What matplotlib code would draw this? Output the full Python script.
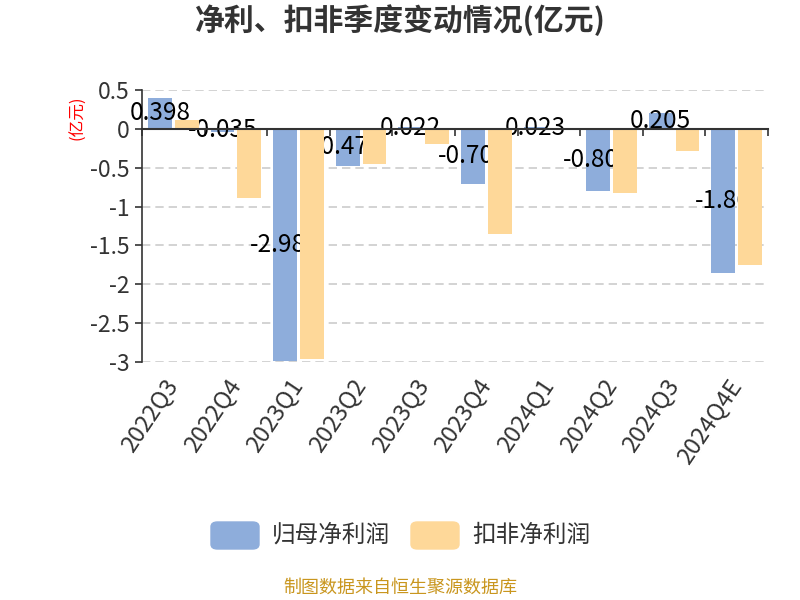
import numpy as np
import matplotlib
matplotlib.use("Agg")
import matplotlib.pyplot as plt
from matplotlib.patches import FancyBboxPatch

plt.rcParams['font.family'] = ['Noto Sans CJK SC', 'DejaVu Sans']

# 数据
quarters = ['2022Q3', '2022Q4', '2023Q1', '2023Q2', '2023Q3',
            '2023Q4', '2024Q1', '2024Q2', '2024Q3', '2024Q4E']
net_profit = [0.398, -0.035, -2.984, -0.473, 0.022, -0.706, 0.023, -0.806, 0.205, -1.86]
deducted = [0.12, -0.885, -2.96, -0.449, -0.2, -1.35, 0.005, -0.82, -0.282, -1.752]
series_names = ['归母净利润', '扣非净利润']
colors = ['#8eaddb', '#fed899']

fig = plt.figure(figsize=(8, 6), dpi=100)
ax = fig.add_axes([142 / 800, 1 - 362 / 600, 626 / 800, 272 / 600])

x = np.arange(len(quarters))
w = 0.38
off = 0.215
ax.bar(x - off, net_profit, width=w, color=colors[0], zorder=2)
ax.bar(x + off, deducted, width=w, color=colors[1], zorder=4)

# 数据标签（居中于柱子，被后面的橙色柱子遮挡）
for xi, v in zip(x, net_profit):
    ax.text(xi - off, v / 2, f'{v:g}', ha='center', va='center',
            fontsize=17.5, color='black', zorder=3)

ax.set_xlim(-0.5, len(quarters) - 0.5)
ax.set_ylim(-3, 0.5)
yt = np.arange(-3, 0.51, 0.5)
ax.set_yticks(yt, labels=[f'{t:g}' for t in yt])
ax.grid(axis='y', color='#cccccc', linestyle=(0, (5, 3)), linewidth=1.2, zorder=0)
ax.tick_params(axis='y', length=5, width=1.2, color='#333333',
               labelsize=16.5, labelcolor='#333333', pad=4)

for s in ['top', 'right']:
    ax.spines[s].set_visible(False)
ax.spines['left'].set_color('#333333')
ax.spines['left'].set_linewidth(1.2)
ax.spines['bottom'].set_position(('data', 0))
ax.spines['bottom'].set_color('#333333')
ax.spines['bottom'].set_linewidth(1.5)
ax.spines['bottom'].set_zorder(5)
ax.set_xticks(np.arange(-0.5, len(quarters), 1))
ax.tick_params(axis='x', labelbottom=False, length=5, width=1.2, color='#333333')

sec = ax.secondary_xaxis('bottom')
sec.set_xticks(x, labels=quarters)
sec.tick_params(length=0, pad=14, labelsize=17, labelcolor='#333333')
for lab in sec.get_xticklabels():
    lab.set_rotation(56)
    lab.set_ha('right')
    lab.set_va('center')
    lab.set_rotation_mode('anchor')
sec.spines['bottom'].set_visible(False)

ax.text(-0.102, 0.897, '(亿元)', transform=ax.transAxes, rotation=90,
        ha='center', va='center', fontsize=12, color='red')

fig.text(0.5, 1 - 20 / 600, '净利、扣非季度变动情况(亿元)', ha='center', va='center',
         fontsize=21.5, fontweight='bold', color='#333333')

# 图例
legend_x = [211, 411]
for lx, name, c in zip(legend_x, series_names, colors):
    fig.patches.append(FancyBboxPatch((lx / 800, 1 - 549 / 600), 48 / 800, 27 / 600,
                                      boxstyle='round,pad=0,rounding_size=0.008',
                                      transform=fig.transFigure, color=c))
    fig.text((lx + 61) / 800, 1 - 535 / 600, name, ha='left', va='center',
             fontsize=17, color='#333333')

fig.text(0.5, 1 - 588 / 600, '制图数据来自恒生聚源数据库', ha='center', va='center',
         fontsize=13, color='#c9961e')

fig.savefig('out.png', dpi=100)
